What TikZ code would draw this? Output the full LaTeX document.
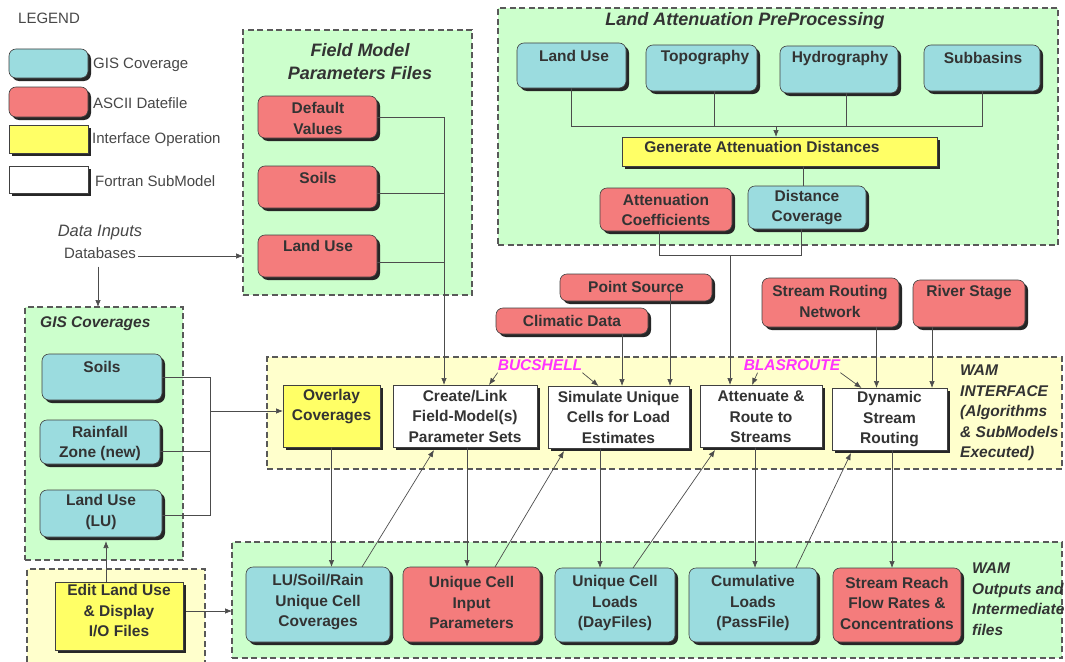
\documentclass[tikz,border=0pt]{standalone}
\usepackage{fontspec}
\setmainfont{Liberation Sans}
\usetikzlibrary{arrows.meta,shadows,calc}
\definecolor{giscol}{HTML}{9BDCDF}
\definecolor{asccol}{HTML}{F47C7C}
\definecolor{ifccol}{HTML}{FFFF66}
\definecolor{grncol}{HTML}{CCFFCC}
\definecolor{ygcol}{HTML}{FFFFCC}
\definecolor{txtcol}{HTML}{333333}
\definecolor{magcol}{HTML}{FF33FF}
\newcommand{\mybx}[6][]{\node[#1, minimum width={(#5)-(#3)}, minimum height={(#6)-(#4)}] (#2) at ({((#3)+(#5))/2},{((#4)+(#6))/2}) {};}
\tikzset{
  boxbase/.style={draw=black!75, line width=0.6pt, inner sep=0pt, outer sep=0pt,
    general shadow={fill=black!85, shadow xshift=3pt, shadow yshift=-3pt}},
  gisbox/.style={boxbase, rounded corners=7pt, fill=giscol},
  ascbox/.style={boxbase, rounded corners=7pt, fill=asccol},
  ifcbox/.style={boxbase, fill=ifccol},
  ftnbox/.style={boxbase, fill=white},
  grp/.style={draw=black!65, line width=1.6pt, dash pattern=on 6pt off 3.5pt, inner sep=0pt, outer sep=0pt},
  ggrn/.style={grp, fill=grncol},
  gyel/.style={grp, fill=ygcol},
  ln/.style={draw=black!70, line width=0.7pt},
  arr/.style={ln, -{Latex[length=7pt,width=5.5pt]}},
  btxt/.style={font=\bfseries\fontsize{15.5}{20.5}\selectfont, text=txtcol, align=center, inner sep=0pt},
  ttl/.style={font=\bfseries\itshape\fontsize{18}{23}\selectfont, text=txtcol, align=center, inner sep=0pt},
  itl/.style={font=\bfseries\itshape\fontsize{15.5}{20.5}\selectfont, text=txtcol, align=left, inner sep=0pt, anchor=west},
  mag/.style={font=\bfseries\itshape\fontsize{15.5}{18}\selectfont, text=magcol, inner sep=0pt},
  legtxt/.style={font=\fontsize{15}{18}\selectfont, text=black!72, inner sep=0pt, anchor=west},
}
\begin{document}
\begin{tikzpicture}[x=1pt,y=-1pt]
\useasboundingbox (0,0) rectangle (1065,661);
\clip (0,0) rectangle (1065,661);
\fill[white] (0,0) rectangle (1065,661);

% groups
\mybx[ggrn]{fgroup}{243}{30}{472}{295}
\mybx[ggrn]{lgroup}{498}{8}{1058}{245}
\mybx[ggrn]{ggroup}{25}{307}{183}{560}
\mybx[gyel]{igroup}{267}{357}{1062}{469}
\mybx[ggrn]{ogroup}{232}{542}{1062}{658}
\mybx[gyel]{egroup}{27}{569}{205}{668}

% legend
\mybx[gisbox]{leggis}{9}{49}{88}{78}
\mybx[ascbox]{legasc}{9}{87}{88}{117}
\mybx[ifcbox]{legifc}{9}{125}{88}{153}
\mybx[ftnbox]{legftn}{9}{166}{88}{193}

% field model
\mybx[ascbox]{fdef}{258}{96}{377}{138}
\mybx[ascbox]{fsoil}{258}{166}{377}{208}
\mybx[ascbox]{fland}{258}{235}{377}{277}

% land attenuation
\mybx[gisbox]{llu}{517}{43}{626}{88}
\mybx[gisbox]{ltopo}{646}{45}{757}{91}
\mybx[gisbox]{lhyd}{780}{46}{898}{93}
\mybx[gisbox]{lsub}{924}{45}{1040}{91}
\mybx[ifcbox]{gen}{622}{137}{937}{166}
\mybx[ascbox]{acoef}{600}{188}{732}{231}
\mybx[gisbox]{dist}{748}{186}{866}{229}

% top inputs
\mybx[ascbox]{psrc}{560}{274}{712}{301}
\mybx[ascbox]{clim}{496}{308}{648}{334}
\mybx[ascbox]{srn}{762}{278}{899}{327}
\mybx[ascbox]{river}{913}{280}{1025}{327}

% GIS coverages
\mybx[gisbox]{gsoil}{42}{354}{162}{400}
\mybx[gisbox]{grain}{40}{420}{160}{464}
\mybx[gisbox]{gland}{40}{490}{162}{537}

% interface
\mybx[ifcbox]{overlay}{283}{385}{380}{447}
\mybx[ftnbox]{create}{393}{385}{537}{447}
\mybx[ftnbox]{simu}{548}{386}{689}{448}
\mybx[ftnbox]{atten}{700}{385}{822}{447}
\mybx[ftnbox]{dyn}{832}{388}{947}{450}

% outputs
\mybx[gisbox]{olu}{246}{567}{390}{642}
\mybx[ascbox]{oinp}{403}{567}{540}{642}
\mybx[gisbox]{oday}{555}{568}{675}{642}
\mybx[gisbox]{ocum}{689}{568}{817}{642}
\mybx[ascbox]{oreach}{833}{568}{961}{642}

% edit
\mybx[ifcbox]{eedit}{55}{582}{183}{650}

% texts (placed before connectors that need them)
\node[font=\itshape\fontsize{16.5}{19}\selectfont, text=black!72, inner sep=0pt] (di) at (100,233) {Data Inputs};
\node[font=\fontsize{15}{18}\selectfont, text=black!72, inner sep=0pt] (db) at (100,253) {Databases};
\node[mag] (buc) at (540,365) {BUCSHELL};
\node[mag] (bla) at (792,365) {BLASROUTE};

% ---- connectors ----
% field model files
\coordinate (fx) at (444,0);
\coordinate (fsp) at ([yshift=-6pt]fsoil.east);
\coordinate (flp) at ([yshift=-6pt]fland.east);
\draw[arr] (fdef.east) -- (fdef.east -| fx) -- (create.north -| fx);
\draw[ln] (fsp) -- (fsp -| fx);
\draw[ln] (flp) -- (flp -| fx);

% data inputs
\coordinate (dbe) at ([xshift=2pt,yshift=-3pt]db.east);
\draw[arr] (dbe) -- (dbe -| fgroup.west);
\coordinate (dbs) at ([xshift=-2pt,yshift=-8pt]db.south);
\draw[arr] (dbs) -- (dbs |- ggroup.north);

% GIS coverages to overlay
\coordinate (gx) at (210,0);
\coordinate (glp) at ([yshift=-2pt]gland.east);
\coordinate (grp) at ([yshift=-9pt]grain.east);
\coordinate (ovin) at ([yshift=5pt]overlay.west);
\draw[ln] (gsoil.east) -- (gsoil.east -| gx) -- (glp -| gx) -- (glp);
\draw[ln] (grp) -- (grp -| gx);
\draw[arr] (ovin -| gx) -- (ovin);

% land attenuation
\coordinate (lj) at (776,126);
\coordinate (ltp) at ([xshift=13pt]ltopo.south);
\coordinate (lhp) at ([xshift=7pt]lhyd.south);
\draw[ln] (llu.south) -- (llu.south |- lj) -- (lsub.south |- lj) -- (lsub.south);
\draw[ln] (ltp) -- (ltp |- lj);
\draw[ln] (lhp) -- (lhp |- lj);
\draw[arr] (lj) -- (lj |- gen.north);
\coordinate (dtop) at ([xshift=-4pt]dist.north);
\draw[ln] (dtop |- gen.south) -- (dtop);
\coordinate (aj) at (730,255);
\coordinate (acp) at ([xshift=-7pt]acoef.south);
\coordinate (dsp) at ([xshift=-6pt]dist.south);
\draw[ln] (acp) -- (acp |- aj) -- (dsp |- aj) -- (dsp);
\draw[arr] (aj) -- (aj |- atten.north);

% top inputs
\coordinate (clp) at ([xshift=50pt]clim.south);
\draw[arr] (clp) -- (clp |- simu.north);
\coordinate (psp) at ([xshift=34pt,yshift=-4pt]psrc.center);
\draw[arr] (psp) -- (psp |- simu.north);
\coordinate (srp) at ([xshift=46pt]srn.south);
\draw[arr] (srp) -- (srp |- dyn.north);
\coordinate (rvp) at ([xshift=-37pt]river.south);
\draw[arr] (rvp) -- (rvp |- dyn.north);

% magenta label arrows
\draw[arr] ([yshift=-2pt]buc.south west) -- ([xshift=24pt]create.north);
\draw[arr] ([yshift=-2pt]buc.south east) -- ([xshift=-20pt]simu.north);
\draw[arr] ([xshift=14pt,yshift=-2pt]bla.south west) -- ([xshift=-9pt]atten.north);
\draw[arr] ([yshift=-2pt]bla.south east) -- ([xshift=-28pt]dyn.north);

% interface to outputs
\draw[arr] (overlay.south) -- (overlay.south |- olu.north);
\coordinate (d1s) at ([xshift=44pt]olu.north);
\coordinate (d1e) at ([xshift=-31pt,yshift=-3pt]create.south);
\draw[arr] (d1s) -- (d1e);
\coordinate (v2) at ([xshift=2pt]create.south);
\draw[arr] (v2) -- (v2 |- oinp.north);
\coordinate (d2s) at ([xshift=23.5pt]oinp.north);
\coordinate (d2e) at ([xshift=-54.5pt,yshift=-3pt]simu.south);
\draw[arr] (d2s) -- (d2e);
\coordinate (v3) at ([xshift=-18.5pt]simu.south);
\draw[arr] (v3) -- (v3 |- oday.north);
\coordinate (d3s) at ([xshift=18pt]oday.north);
\coordinate (d3e) at ([xshift=-46pt,yshift=-3pt]atten.south);
\draw[arr] (d3s) -- (d3e);
\coordinate (v4) at ([xshift=-6pt]atten.south);
\draw[arr] (v4) -- (v4 |- ocum.north);
\coordinate (d4s) at ([xshift=43pt]ocum.north);
\coordinate (d4e) at ([xshift=-38.5pt,yshift=-3pt]dyn.south);
\draw[arr] (d4s) -- (d4e);
\coordinate (v5) at ([xshift=2.5pt]dyn.south);
\draw[arr] (v5) -- (v5 |- oreach.north);

% edit
\coordinate (eup) at ([xshift=-13pt]eedit.north);
\coordinate (lub) at ([yshift=-4pt]gland.south);
\draw[arr] (eup) -- (eup |- lub);
\coordinate (erp) at ([xshift=3pt,yshift=5pt]eedit.east);
\draw[arr] (erp) -- (erp -| ogroup.west);

% ---- texts ----
\node[legtxt] (legt) at (18,18) {LEGEND};
\node[legtxt] (legt1) at (93,65) {GIS Coverage};
\node[legtxt] (legt2) at (93,103) {ASCII Datefile};
\node[legtxt] (legt3) at (92,140) {Interface Operation};
\node[legtxt] (legt4) at (95,181) {Fortran SubModel};

\node[ttl] (ftitle) at (360,61.5) {Field Model\\Parameters Files};
\node[btxt] (fdeft) at (318,118.5) {Default\\Values};
\node[btxt] (fsoilt) at (318,178) {Soils};
\node[btxt] (flandt) at (318,246) {Land Use};

\node[ttl] (ltitle) at (745,21) {Land Attenuation PreProcessing};
\node[btxt] (llut) at (574,56) {Land Use};
\node[btxt] (ltopot) at (705,58) {Topography};
\node[btxt] (lhydt) at (840,59) {Hydrography};
\node[btxt] (lsubt) at (983,58) {Subbasins};
\node[btxt] (gent) at (762,147) {Generate Attenuation Distances};
\node[btxt] (acoeft) at (666,210) {Attenuation\\Coefficients};
\node[btxt] (distt) at (807,207.5) {Distance\\Coverage};

\node[btxt] (psrct) at (636,287) {Point Source};
\node[btxt] (climt) at (572,321) {Climatic Data};
\node[btxt] (srnt) at (830,301.5) {Stream Routing\\Network};
\node[btxt] (rivert) at (969,293) {River Stage};

\node[itl, font=\bfseries\itshape\fontsize{15.5}{18}\selectfont] (gtitle) at (40,324) {GIS Coverages};
\node[btxt] (gsoilt) at (102,367) {Soils};
\node[btxt] (graint) at (100,443.5) {Rainfall\\Zone (new)};
\node[btxt] (glandt) at (101,512) {Land Use\\(LU)};

\node[btxt] (overlayt) at (331.5,406.5) {Overlay\\Coverages};
\node[btxt] (createt) at (465,416) {Create/Link\\Field-Model(s)\\Parameter Sets};
\node[btxt] (simut) at (618.5,417) {Simulate Unique\\Cells for Load\\Estimates};
\node[btxt] (attent) at (761,417) {Attenuate \&\\Route to\\Streams};
\node[btxt] (dynt) at (889.5,419.5) {Dynamic\\Stream\\Routing};
\node[itl] (ilabel) at (960,413) {WAM\\INTERFACE\\(Algorithms\\\& SubModels\\Executed)};

\node[btxt] (olut) at (318,602.5) {LU/Soil/Rain\\Unique Cell\\Coverages};
\node[btxt] (oinpt) at (471.5,602.5) {Unique Cell\\Input\\Parameters};
\node[btxt] (odayt) at (615,603) {Unique Cell\\Loads\\(DayFiles)};
\node[btxt] (ocumt) at (753,603) {Cumulative\\Loads\\(PassFile)};
\node[btxt] (oreacht) at (897,603) {Stream Reach\\Flow Rates \&\\Concentrations};
\node[itl] (olabel) at (972,599) {WAM\\Outputs and\\Intermediate\\files};

\node[btxt] (eeditt) at (119,611) {Edit Land Use\\\& Display\\I/O Files};
\end{tikzpicture}
\end{document}
